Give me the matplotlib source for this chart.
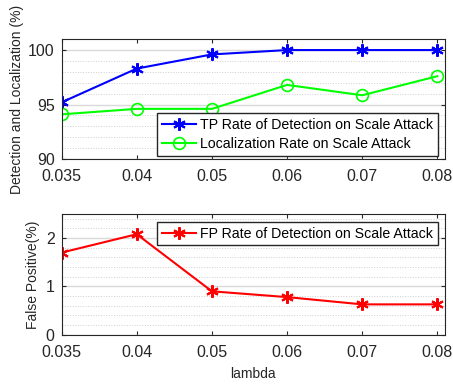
import matplotlib.pyplot as plt
from matplotlib.ticker import MultipleLocator

plt.rcParams['font.family'] = ['Liberation Sans', 'DejaVu Sans']

lambdas = ['0.035', '0.04', '0.05', '0.06', '0.07', '0.08']
tp_rate = [95.2, 98.3, 99.6, 100.0, 100.0, 100.0]
loc_rate = [94.1, 94.6, 94.6, 96.8, 95.85, 97.6]
fp_rate = [1.70, 2.08, 0.90, 0.78, 0.63, 0.63]

pos = list(range(1, len(lambdas) + 1))
asterisk = (6, 2, 0)

fig = plt.figure(figsize=(4.53, 3.84), dpi=100)
ax1 = fig.add_axes([0.136, 0.586, 0.846, 0.312])
ax2 = fig.add_axes([0.136, 0.128, 0.846, 0.315])


def style_axes(ax, minor_step):
    ax.set_xticks(pos)
    ax.set_xticklabels(lambdas)
    ax.set_xlim(1, 6.1)
    ax.yaxis.set_minor_locator(MultipleLocator(minor_step))
    ax.grid(True, which='major', axis='y', color='#d9d9d9', linewidth=1.0)
    ax.grid(True, which='minor', axis='y', color='#cfcfcf', linestyle=':', linewidth=0.7)
    ax.set_axisbelow(True)
    ax.tick_params(which='both', direction='in', top=True, right=True,
                   labelsize=11.5, colors='#262626', length=3)
    ax.tick_params(axis='x', pad=7)
    ax.tick_params(axis='y', pad=5)
    ax.tick_params(which='minor', length=0)
    for s in ax.spines.values():
        s.set_color('#262626')
        s.set_linewidth(0.8)


legend_opts = dict(fontsize=10.2, fancybox=False, edgecolor='#262626', framealpha=1,
                   borderpad=0.35, handlelength=2.4, handletextpad=0.3,
                   labelspacing=0.35, borderaxespad=0.2)

ax1.plot(pos, tp_rate, color='blue', linewidth=1.5, marker=asterisk,
         markersize=9, markeredgewidth=1.5, label='TP Rate of Detection on Scale Attack')
ax1.plot(pos, loc_rate, color='#00ff00', linewidth=1.5, marker='o', markersize=8.5,
         markerfacecolor='none', markeredgewidth=1.2,
         label='Localization Rate on Scale Attack')
ax1.set_ylim(90, 101)
ax1.set_yticks([90, 95, 100])
style_axes(ax1, 1)
ax1.set_ylabel('Detection and Localization (%)', fontsize=10, color='#262626', labelpad=3)
ax1.legend(loc='lower right', bbox_to_anchor=(0.99, 0.0), **legend_opts)

ax2.plot(pos, fp_rate, color='red', linewidth=1.5, marker=asterisk,
         markersize=9, markeredgewidth=1.5, label='FP Rate of Detection on Scale Attack')
ax2.set_ylim(0, 2.5)
ax2.set_yticks([0, 1, 2])
style_axes(ax2, 0.2)
ax2.set_ylabel('False Positive(%)', fontsize=10, color='#262626', labelpad=4)
ax2.set_xlabel('lambda', fontsize=10, color='#262626', labelpad=5)
ax2.legend(loc='upper right', bbox_to_anchor=(0.99, 0.96), **legend_opts)

fig.savefig('out.png', dpi=100)
